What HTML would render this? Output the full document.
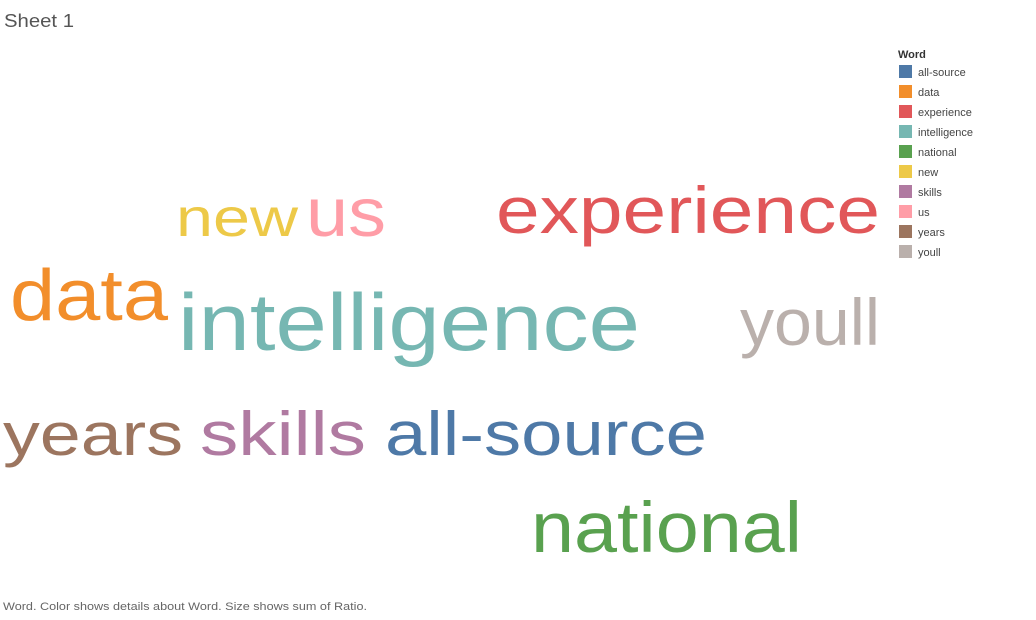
<!DOCTYPE html>
<html><head><meta charset="utf-8"><style>
body{margin:0;background:#fff;width:1036px;height:615px;overflow:hidden;font-family:"Liberation Sans",sans-serif}
</style></head><body>
<svg width="1036" height="615">
<text x="4" y="27" font-size="18" fill="#555" textLength="70" lengthAdjust="spacingAndGlyphs">Sheet 1</text>
<g id="cloud"></g>
<g id="legend">
<text x="898" y="58" font-size="11" font-weight="bold" fill="#333">Word</text>
</g>
<text x="3" y="610" font-size="11" fill="#666" textLength="364" lengthAdjust="spacingAndGlyphs">Word.  Color shows details about Word.  Size shows sum of Ratio.</text>
</svg>
<script>
const words=["all-source","data","experience","intelligence","national","new","skills","us","years","youll"];
const colors=["#4e79a7","#f28e2b","#e15759","#76b7b2","#59a14f","#edc948","#b07aa1","#ff9da7","#9c755f","#bab0ac"];
const ratios=[62,72,66,81,71,54,62,69,60,66];
// layout (x, baseline y, width) per word
const layoutX=[385,10,496,178,531,176,200,306,3,740];
const layoutY=[455,320,233,350,552,236,455,236,455,345];
const layoutW=[322,158,384,462,271,122,166,80,180,140];
const NS="http://www.w3.org/2000/svg";
const cloud=document.getElementById('cloud');
const legend=document.getElementById('legend');
words.forEach((w,i)=>{
  const t=document.createElementNS(NS,'text');
  t.setAttribute('x',layoutX[i]);t.setAttribute('y',layoutY[i]);
  t.setAttribute('font-size',ratios[i]);t.setAttribute('fill',colors[i]);
  t.setAttribute('textLength',layoutW[i]);t.setAttribute('lengthAdjust','spacingAndGlyphs');
  t.textContent=w;
  
  
  cloud.appendChild(t);
  const r=document.createElementNS(NS,'rect');
  r.setAttribute('x',899);r.setAttribute('y',65+i*20);r.setAttribute('width',13);r.setAttribute('height',13);
  r.setAttribute('fill',colors[i]);
  
  
  legend.appendChild(r);
  const lt=document.createElementNS(NS,'text');
  lt.setAttribute('x',918);lt.setAttribute('y',76+i*20);lt.setAttribute('font-size',11);lt.setAttribute('fill','#444');
  lt.textContent=w;
  
  
  legend.appendChild(lt);
});
</script>
</body></html>
